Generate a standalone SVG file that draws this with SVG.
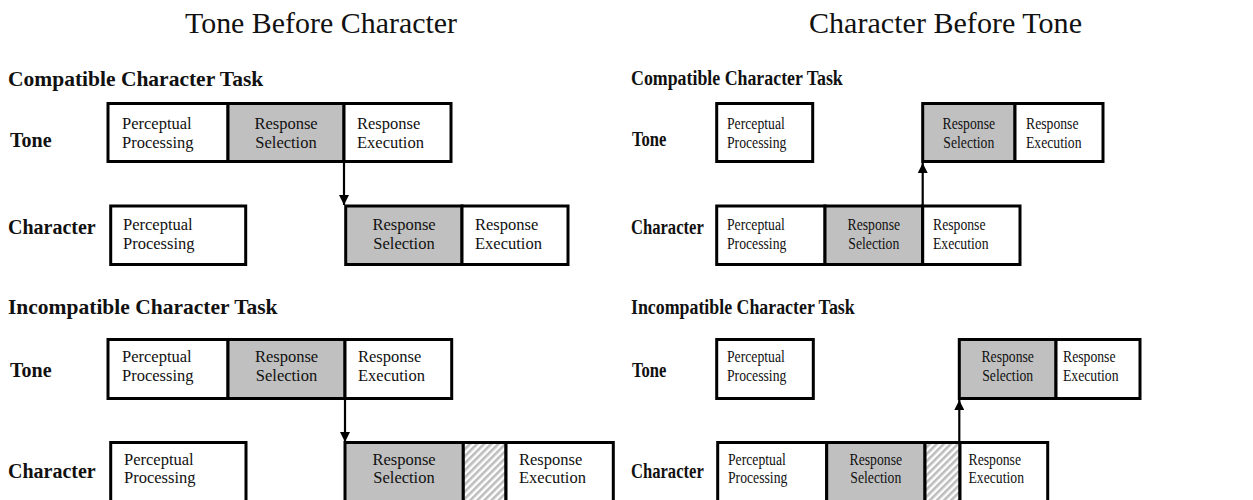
<svg xmlns="http://www.w3.org/2000/svg" width="1253" height="500" viewBox="0 0 1253 500">
<style>
.title{font-family:"Liberation Serif",serif;font-size:29px;fill:#111}
.hdr{font-family:"Liberation Serif",serif;font-size:21.5px;font-weight:bold;fill:#111}
.lbl{font-family:"Liberation Serif",serif;font-size:20px;font-weight:bold;fill:#111}
.t{font-family:"Liberation Serif",serif;font-size:16.5px;fill:#111}
.c{text-anchor:middle}
.w{fill:#fff;stroke:#000;stroke-width:3}
.g{fill:#c0c0c0;stroke:#000;stroke-width:3}
.h{fill:url(#hatch);stroke:#000;stroke-width:3}
.arr{stroke:#000;stroke-width:2.2;fill:none}
</style>
<defs>
<pattern id="hatch" width="5" height="5" patternUnits="userSpaceOnUse" patternTransform="rotate(45)">
<rect width="5" height="5" fill="#fff"/>
<rect width="2.6" height="5" fill="#bdbdbd"/>
</pattern>
<marker id="ah" viewBox="0 0 10 10" refX="10" refY="5" markerWidth="10" markerHeight="10" markerUnits="userSpaceOnUse" orient="auto">
<path d="M0,0 L10,5 L0,10 Z" fill="#000"/>
</marker>
</defs>
<rect width="1253" height="500" fill="#fff"/>
<text class="title c" x="321" y="33" textLength="272" lengthAdjust="spacingAndGlyphs">Tone Before Character</text>
<text class="title c" x="945.5" y="33" textLength="273" lengthAdjust="spacingAndGlyphs">Character Before Tone</text>
<text class="hdr" x="8" y="86">Compatible Character Task</text>
<text class="hdr" transform="translate(631,85) scale(0.83,1)">Compatible Character Task</text>
<text class="hdr" x="8" y="314">Incompatible Character Task</text>
<text class="hdr" transform="translate(631,314) scale(0.83,1)">Incompatible Character Task</text>
<text class="lbl" x="10" y="147">Tone</text>
<text class="lbl" x="8" y="234">Character</text>
<text class="lbl" x="10" y="377">Tone</text>
<text class="lbl" x="8" y="478">Character</text>
<text class="lbl" transform="translate(632,146) scale(0.83,1)">Tone</text>
<text class="lbl" transform="translate(631,234) scale(0.83,1)">Character</text>
<text class="lbl" transform="translate(632,377) scale(0.83,1)">Tone</text>
<text class="lbl" transform="translate(631,478) scale(0.83,1)">Character</text>

<g id="connectors">
<line class="arr" x1="344" y1="162" x2="344" y2="205" marker-end="url(#ah)"/>
<line class="arr" x1="922.7" y1="206" x2="922.7" y2="163" marker-end="url(#ah)"/>
<line class="arr" x1="345" y1="399" x2="345" y2="442" marker-end="url(#ah)"/>
<line class="arr" x1="959.3" y1="442" x2="959.3" y2="400" marker-end="url(#ah)"/>
</g>

<!-- Left top: Tone -->
<g id="lt-tone-pp"><rect class="w" x="108" y="103.5" width="120" height="58"/><text class="t" x="122" y="128.5">Perceptual</text><text class="t" x="122" y="147.5">Processing</text></g>
<g id="lt-tone-rs"><rect class="g" x="228" y="103.5" width="116" height="58"/><text class="t c" x="286" y="128.5">Response</text><text class="t c" x="286" y="147.5">Selection</text></g>
<g id="lt-tone-re"><rect class="w" x="344" y="103.5" width="107" height="58"/><text class="t" x="357" y="128.5">Response</text><text class="t" x="357" y="147.5">Execution</text></g>
<!-- Left top: Character -->
<g id="lt-char-pp"><rect class="w" x="110.7" y="206" width="135" height="58.5"/><text class="t" x="123" y="230">Perceptual</text><text class="t" x="123" y="248.5">Processing</text></g>
<g id="lt-char-rs"><rect class="g" x="345.7" y="206" width="116.3" height="58.5"/><text class="t c" x="404" y="230">Response</text><text class="t c" x="404" y="248.5">Selection</text></g>
<g id="lt-char-re"><rect class="w" x="462" y="206" width="106" height="58.5"/><text class="t" x="475" y="230">Response</text><text class="t" x="475" y="248.5">Execution</text></g>

<!-- Left bottom: Tone -->
<g id="lb-tone-pp"><rect class="w" x="108" y="339.5" width="120" height="59"/><text class="t" x="122" y="362">Perceptual</text><text class="t" x="122" y="381">Processing</text></g>
<g id="lb-tone-rs"><rect class="g" x="228" y="339.5" width="117" height="59"/><text class="t c" x="286.5" y="362">Response</text><text class="t c" x="286.5" y="381">Selection</text></g>
<g id="lb-tone-re"><rect class="w" x="345" y="339.5" width="106.7" height="59"/><text class="t" x="358" y="362">Response</text><text class="t" x="358" y="381">Execution</text></g>
<!-- Left bottom: Character -->
<g id="lb-char-pp"><rect class="w" x="110.7" y="442.5" width="135.3" height="64"/><text class="t" x="124" y="464.5">Perceptual</text><text class="t" x="124" y="483">Processing</text></g>
<g id="lb-char-rs"><rect class="g" x="345" y="442.5" width="118.3" height="64"/><text class="t c" x="404" y="464.5">Response</text><text class="t c" x="404" y="483">Selection</text></g>
<g id="lb-char-wait"><rect class="h" x="463.3" y="442.5" width="42.7" height="64"/></g>
<g id="lb-char-re"><rect class="w" x="506" y="442.5" width="107.3" height="64"/><text class="t" x="519" y="464.5">Response</text><text class="t" x="519" y="483">Execution</text></g>

<!-- Right top: Tone -->
<g id="rt-tone-pp"><rect class="w" x="716.7" y="103.5" width="96" height="58"/><text class="t" transform="translate(727,128.5) scale(0.83,1)">Perceptual</text><text class="t" transform="translate(727,147.5) scale(0.83,1)">Processing</text></g>
<g id="rt-tone-rs"><rect class="g" x="922.7" y="103.5" width="92.3" height="58"/><text class="t c" transform="translate(968.8,128.5) scale(0.83,1)">Response</text><text class="t c" transform="translate(968.8,147.5) scale(0.83,1)">Selection</text></g>
<g id="rt-tone-re"><rect class="w" x="1015" y="103.5" width="88" height="58"/><text class="t" transform="translate(1026,128.5) scale(0.83,1)">Response</text><text class="t" transform="translate(1026,147.5) scale(0.83,1)">Execution</text></g>
<!-- Right top: Character -->
<g id="rt-char-pp"><rect class="w" x="716.7" y="206" width="108.3" height="58.5"/><text class="t" transform="translate(727,230) scale(0.83,1)">Perceptual</text><text class="t" transform="translate(727,248.5) scale(0.83,1)">Processing</text></g>
<g id="rt-char-rs"><rect class="g" x="825" y="206" width="97.7" height="58.5"/><text class="t c" transform="translate(873.8,230) scale(0.83,1)">Response</text><text class="t c" transform="translate(873.8,248.5) scale(0.83,1)">Selection</text></g>
<g id="rt-char-re"><rect class="w" x="922.7" y="206" width="97.3" height="58.5"/><text class="t" transform="translate(933,230) scale(0.83,1)">Response</text><text class="t" transform="translate(933,248.5) scale(0.83,1)">Execution</text></g>

<!-- Right bottom: Tone -->
<g id="rb-tone-pp"><rect class="w" x="716.7" y="339.5" width="96.6" height="59"/><text class="t" transform="translate(727,362) scale(0.83,1)">Perceptual</text><text class="t" transform="translate(727,381) scale(0.83,1)">Processing</text></g>
<g id="rb-tone-rs"><rect class="g" x="959.3" y="339.5" width="96.7" height="59"/><text class="t c" transform="translate(1007.7,362) scale(0.83,1)">Response</text><text class="t c" transform="translate(1007.7,381) scale(0.83,1)">Selection</text></g>
<g id="rb-tone-re"><rect class="w" x="1056" y="339.5" width="84" height="59"/><text class="t" transform="translate(1063,362) scale(0.83,1)">Response</text><text class="t" transform="translate(1063,381) scale(0.83,1)">Execution</text></g>
<!-- Right bottom: Character -->
<g id="rb-char-pp"><rect class="w" x="717.7" y="442.5" width="109" height="64"/><text class="t" transform="translate(728,464.5) scale(0.83,1)">Perceptual</text><text class="t" transform="translate(728,483) scale(0.83,1)">Processing</text></g>
<g id="rb-char-rs"><rect class="g" x="826.7" y="442.5" width="98.3" height="64"/><text class="t c" transform="translate(875.8,464.5) scale(0.83,1)">Response</text><text class="t c" transform="translate(875.8,483) scale(0.83,1)">Selection</text></g>
<g id="rb-char-wait"><rect class="h" x="925" y="442.5" width="35" height="64"/></g>
<g id="rb-char-re"><rect class="w" x="960" y="442.5" width="87.7" height="64"/><text class="t" transform="translate(968.5,464.5) scale(0.83,1)">Response</text><text class="t" transform="translate(968.5,483) scale(0.83,1)">Execution</text></g>
</svg>
